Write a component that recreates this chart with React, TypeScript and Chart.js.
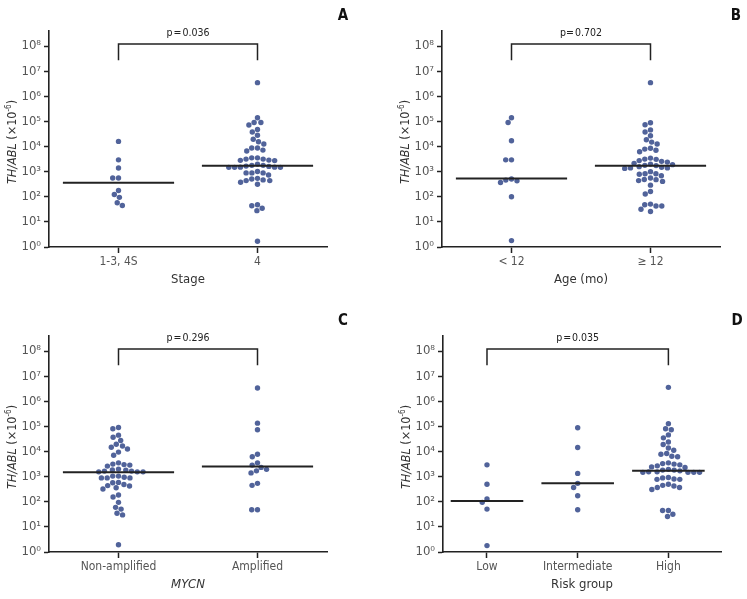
import React, { useEffect, useRef } from 'react';
import { Chart, registerables } from 'chart.js';

Chart.register(...registerables);

const FONT = '"Liberation Sans Narrow", "DejaVu Sans Condensed", "Roboto", sans-serif';
const DOT = '#51639a';
const INK = '#222';

// ---------- data (TH/ABL ×10^-6) ----------
const stageCategories = ['1-3, 4S', '4'];
const stage1to3 = [16000, 2950, 1400, 560, 560, 178, 123, 95, 58, 45];
const stage4 = [3.5e6, 1.4e5, 9.1e4, 9.1e4, 7.2e4, 4.8e4, 3.8e4, 2.8e4, 1.95e4, 1.55e4, 1.26e4, 8700, 8700, 7200, 6600, 3550, 3550, 3160, 3160, 2880, 2820, 2750, 2000, 1780, 1780, 1660, 1620, 1510, 1510, 1480, 1480, 1480, 1020, 890, 890, 890, 740, 540, 510, 470, 440, 440, 380, 316, 48, 44, 35, 28, 1.7];
const stageMedians = [360, 1700];

const ageCategories = ['< 12', '\u2265 12'];
const ageUnder12 = [1.4e5, 9.1e4, 1.7e4, 2950, 2950, 510, 460, 430, 370, 100, 1.8];
const ageOver12 = [3.5e6, 8.9e4, 7.4e4, 4.6e4, 3.8e4, 2.7e4, 1.86e4, 1.5e4, 1.26e4, 8500, 7900, 7100, 6200, 3470, 3160, 3090, 2750, 2570, 2400, 2140, 2000, 1900, 1780, 1740, 1580, 1480, 1410, 1410, 1350, 1000, 830, 830, 790, 690, 560, 490, 480, 440, 410, 290, 162, 129, 51, 48, 43, 43, 32, 26];
const ageMedians = [530, 1730];

const mycnCategories = ['Non-amplified', 'Amplified'];
const mycnNonAmplified = [9.1e4, 8.1e4, 4.5e4, 3.7e4, 2.75e4, 1.95e4, 1.66e4, 1.48e4, 1.26e4, 9500, 7100, 3550, 3160, 3020, 2880, 2630, 2000, 1860, 1820, 1660, 1660, 1550, 1550, 1550, 1050, 1050, 950, 890, 890, 890, 590, 575, 490, 440, 425, 363, 324, 186, 155, 95, 60, 51, 35, 30, 1.95];
const mycnAmplified = [3.4e6, 1.35e5, 7.4e4, 7800, 6200, 3550, 2880, 2340, 1950, 1700, 1410, 540, 450, 48, 48];
const mycnMedians = [1480, 2550];

const riskCategories = ['Low', 'Intermediate', 'High'];
const riskLow = [2950, 500, 129, 95, 51, 1.8];
const riskIntermediate = [8.9e4, 1.45e4, 1350, 540, 370, 174, 48];
const riskHigh = [3.6e6, 1.29e5, 8.1e4, 7.4e4, 4.6e4, 3.5e4, 2.4e4, 1.9e4, 1.38e4, 1.12e4, 8300, 7800, 6500, 6200, 3550, 3310, 3160, 2950, 2690, 2450, 2340, 1950, 1820, 1820, 1700, 1550, 1550, 1480, 1480, 1480, 1480, 930, 890, 810, 780, 780, 500, 450, 425, 370, 370, 310, 45, 45, 32, 26];
const riskMedians = [107, 540, 1700];

const yExponents = [0, 1, 2, 3, 4, 5, 6, 7, 8];
const pValues = ['p\u200a=\u200a0.036', 'p=\u200a0.702', 'p\u200a=\u200a0.296', 'p\u200a=\u200a0.035'];

// bracket levels (log-scale values)
const BRACKET_TOP = Math.pow(10, 8.08);
const BRACKET_LEG = Math.pow(10, 7.44);
const Y_MAX = Math.pow(10, 8.6);

const SUP: Record<string, string> = { '0': '\u2070', '1': '\u00b9', '2': '\u00b2', '3': '\u00b3', '4': '\u2074', '5': '\u2075', '6': '\u2076', '7': '\u2077', '8': '\u2078', '9': '\u2079' };

type PanelCfg = {
  letter: string;
  cats: string[];
  groups: number[][];
  medians: number[];
  p: string;
  bracket: [number, number];
  xTitle: string;
  xItalic: boolean;
  xMin: number;
  xMax: number;
  left: number;
  top: number;
  h: number;
};

const W = 354;
const AREA_BOTTOM = 247;

const panels: PanelCfg[] = [
  { letter: 'A', cats: stageCategories, groups: [stage1to3, stage4], medians: stageMedians, p: pValues[0], bracket: [0, 1], xTitle: 'Stage', xItalic: false, xMin: -0.5, xMax: 1.5, left: 0, top: 0, h: 305 },
  { letter: 'B', cats: ageCategories, groups: [ageUnder12, ageOver12], medians: ageMedians, p: pValues[1], bracket: [0, 1], xTitle: 'Age (mo)', xItalic: false, xMin: -0.5, xMax: 1.5, left: 393, top: 0, h: 305 },
  { letter: 'C', cats: mycnCategories, groups: [mycnNonAmplified, mycnAmplified], medians: mycnMedians, p: pValues[2], bracket: [0, 1], xTitle: 'MYCN', xItalic: true, xMin: -0.5, xMax: 1.5, left: 0, top: 305, h: 294 },
  { letter: 'D', cats: riskCategories, groups: [riskLow, riskIntermediate, riskHigh], medians: riskMedians, p: pValues[3], bracket: [0, 2], xTitle: 'Risk group', xItalic: false, xMin: -0.485, xMax: 2.58, left: 394, top: 305, h: 294 },
];

// compact beeswarm (pixel distance D between dot centres)
function swarm(ys: number[], D: number): number[] {
  const order = ys.map((_, i) => i).sort((a, b) => ys[a] - ys[b]);
  const placed: { x: number; y: number }[] = [];
  const out = new Array(ys.length).fill(0);
  for (const i of order) {
    const y = ys[i];
    const intervals: [number, number][] = [];
    for (const p of placed) {
      const dy = Math.abs(p.y - y);
      if (dy < D) {
        const w = Math.sqrt(D * D - dy * dy);
        intervals.push([p.x - w, p.x + w]);
      }
    }
    const cands = [0];
    for (const [a, b] of intervals) cands.push(a, b);
    cands.sort((a, b) => Math.abs(a) - Math.abs(b) || a - b);
    let x = 0;
    for (const c of cands) {
      if (intervals.every(([a, b]) => c <= a + 1e-6 || c >= b - 1e-6)) {
        x = c;
        break;
      }
    }
    out[i] = x;
    placed.push({ x, y });
  }
  return out;
}

function makeAnnotPlugin(cfg: PanelCfg) {
  return {
    id: 'annot' + cfg.letter,
    afterDraw(chart: any) {
      const { ctx, chartArea: ca, scales } = chart;
      ctx.save();
      ctx.textAlign = 'center';
      ctx.textBaseline = 'middle';
      // panel letter
      ctx.fillStyle = '#111';
      ctx.font = `bold 15px ${FONT}`;
      ctx.fillText(cfg.letter, ca.right + 16, 16);
      // p value
      const xa = scales.x.getPixelForValue(cfg.bracket[0]);
      const xb = scales.x.getPixelForValue(cfg.bracket[1]);
      const yb = scales.y.getPixelForValue(BRACKET_TOP);
      ctx.fillStyle = INK;
      ctx.font = `10.5px ${FONT}`;
      ctx.fillText(cfg.p, (xa + xb) / 2, yb - 11);
      // x title
      ctx.fillStyle = '#333';
      ctx.font = `${cfg.xItalic ? 'italic ' : ''}13px ${FONT}`;
      ctx.fillText(cfg.xTitle, (ca.left + ca.right) / 2, ca.bottom + 33);
      // y title
      const parts = [
        { t: 'TH/ABL', font: `italic 12.5px ${FONT}`, dy: 0 },
        { t: ' (\u00d710', font: `12.5px ${FONT}`, dy: 0 },
        { t: '-6', font: `8px ${FONT}`, dy: -4.5 },
        { t: ')', font: `12.5px ${FONT}`, dy: 0 },
      ];
      let total = 0;
      const widths = parts.map((p) => {
        ctx.font = p.font;
        const w = ctx.measureText(p.t).width;
        total += w;
        return w;
      });
      ctx.translate(13, (ca.top + ca.bottom) / 2 + 3);
      ctx.rotate(-Math.PI / 2);
      ctx.textAlign = 'left';
      let x = -total / 2;
      parts.forEach((p, i) => {
        ctx.font = p.font;
        ctx.fillText(p.t, x, p.dy);
        x += widths[i];
      });
      ctx.restore();
    },
  };
}

function Panel({ cfg }: { cfg: PanelCfg }) {
  const ref = useRef<HTMLCanvasElement>(null);
  useEffect(() => {
    if (!ref.current) return;
    const pointSets = cfg.groups.map((vals, gi) => ({
      type: 'scatter' as const,
      data: vals.map((v) => ({ x: gi, y: v })),
      backgroundColor: DOT,
      borderColor: DOT,
      borderWidth: 0,
      pointRadius: 2.7,
      pointHoverRadius: 2.7,
      order: 1,
    }));
    const medianSets = cfg.medians.map((m, gi) => ({
      type: 'scatter' as const,
      data: [
        { x: gi - 0.4, y: m },
        { x: gi + 0.4, y: m },
      ],
      showLine: true,
      borderColor: INK,
      borderWidth: 2,
      pointRadius: 0,
      pointHoverRadius: 0,
      order: 0,
    }));
    const bracketSet = {
      type: 'scatter' as const,
      data: [
        { x: cfg.bracket[0], y: BRACKET_LEG },
        { x: cfg.bracket[0], y: BRACKET_TOP },
        { x: cfg.bracket[1], y: BRACKET_TOP },
        { x: cfg.bracket[1], y: BRACKET_LEG },
      ],
      showLine: true,
      borderColor: INK,
      borderWidth: 1.5,
      pointRadius: 0,
      pointHoverRadius: 0,
      order: 2,
    };
    const H = cfg.h;
    const chart = new Chart(ref.current, {
      type: 'scatter',
      data: { datasets: [...pointSets, ...medianSets, bracketSet] as any },
      options: {
        animation: false,
        responsive: false,
        maintainAspectRatio: false,
        devicePixelRatio: 1,
        events: [],
        layout: { padding: { top: 31, right: 27, left: 0, bottom: 0 } },
        plugins: { legend: { display: false }, tooltip: { enabled: false }, title: { display: false } },
        scales: {
          x: {
            type: 'linear',
            min: cfg.xMin,
            max: cfg.xMax,
            border: { display: true, color: INK, width: 1.6 },
            grid: { display: true, drawOnChartArea: false, drawTicks: true, tickLength: 6, tickColor: INK, tickWidth: 1.5 },
            ticks: {
              color: '#555',
              font: { family: FONT, size: 12 },
              padding: 2,
              autoSkip: false,
              maxRotation: 0,
              callback: (v: any) => cfg.cats[Math.round(Number(v))] ?? '',
            },
            afterBuildTicks: (s: any) => {
              s.ticks = cfg.cats.map((_, i) => ({ value: i }));
            },
            afterFit: (s: any) => {
              s.height = H - AREA_BOTTOM;
            },
          },
          y: {
            type: 'logarithmic',
            min: 1,
            max: Y_MAX,
            border: { display: true, color: INK, width: 1.6 },
            grid: { display: true, drawOnChartArea: false, drawTicks: true, tickLength: 5, tickColor: INK, tickWidth: 1.5 },
            ticks: {
              color: '#555',
              font: { family: FONT, size: 13 },
              padding: 3,
              autoSkip: false,
              callback: (v: any) => {
                const e = Math.round(Math.log10(Number(v)));
                return '10' + String(e).split('').map((d) => SUP[d]).join('');
              },
            },
            afterBuildTicks: (s: any) => {
              s.ticks = yExponents.map((e) => ({ value: Math.pow(10, e) }));
            },
            afterFit: (s: any) => {
              s.width = 49;
            },
          },
        },
      } as any,
      plugins: [makeAnnotPlugin(cfg)],
    });
    // beeswarm offsets computed through the chart's scales
    const xs: any = chart.scales.x;
    const ys: any = chart.scales.y;
    const unit = xs.getPixelForValue(1) - xs.getPixelForValue(0);
    cfg.groups.forEach((vals, gi) => {
      const py = vals.map((v) => ys.getPixelForValue(v));
      const off = swarm(py, 5.8);
      (chart.data.datasets[gi] as any).data = vals.map((v, k) => ({ x: gi + off[k] / unit, y: v }));
    });
    chart.update();
    return () => chart.destroy();
  }, [cfg]);
  return (
    <canvas
      ref={ref}
      width={W}
      height={cfg.h}
      style={{ position: 'absolute', left: cfg.left, top: cfg.top, width: W, height: cfg.h }}
    />
  );
}

export default function App() {
  return (
    <div style={{ position: 'absolute', left: 0, top: 0, width: 747, height: 599, background: '#fff', overflow: 'hidden' }}>
      {panels.map((p) => (
        <Panel key={p.letter} cfg={p} />
      ))}
    </div>
  );
}
